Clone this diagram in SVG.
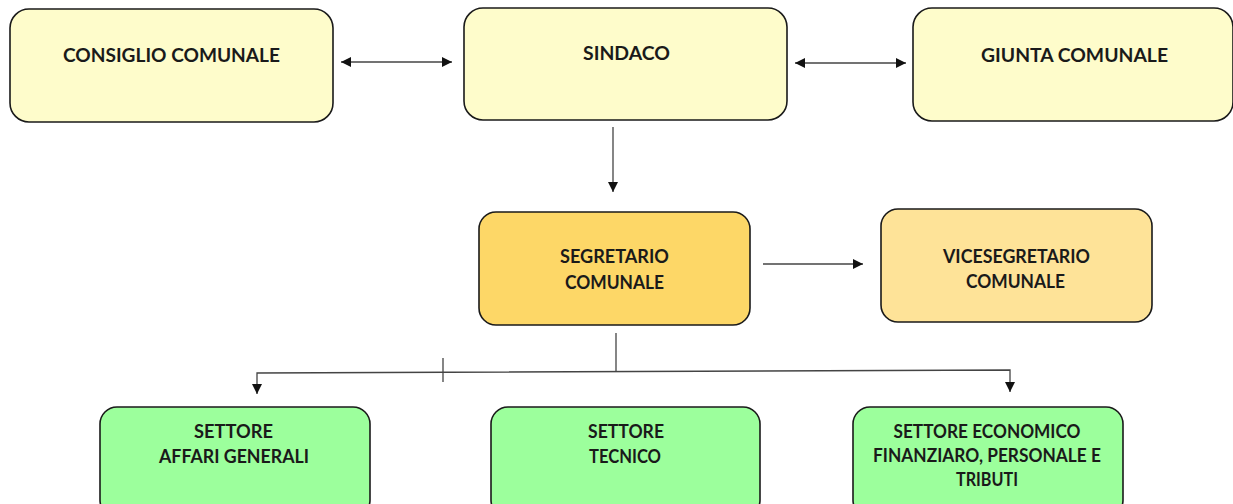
<svg xmlns="http://www.w3.org/2000/svg" width="1233" height="504" viewBox="0 0 1233 504">
<defs>
<marker id="ah" viewBox="0 0 10 10" refX="10" refY="5" markerWidth="10" markerHeight="10" markerUnits="userSpaceOnUse" orient="auto-start-reverse">
<path d="M0,0 L10,5 L0,10 z" fill="#111"/>
</marker>
<style>
.box{stroke:#1a1a1a;stroke-width:1.6}
.y{fill:#FEFCCB}
.s{fill:#FDD767}
.v{fill:#FEE398}
.g{fill:#9CFF9C}
text{font-family:Lato,"Open Sans","Liberation Sans",sans-serif;font-weight:bold;font-size:19px;fill:#1a1a1a;text-anchor:middle}
.c{fill:none;stroke:#444;stroke-width:1.3}
</style>
</defs>
<rect width="1233" height="504" fill="#fff"/>
<g id="consiglio"><rect class="box y" x="10" y="9" width="323" height="113" rx="19"/><text x="171.5" y="62" textLength="217" lengthAdjust="spacingAndGlyphs">CONSIGLIO COMUNALE</text></g>
<g id="sindaco"><rect class="box y" x="464" y="8" width="323" height="112" rx="19"/><text x="626.5" y="60" textLength="87" lengthAdjust="spacingAndGlyphs">SINDACO</text></g>
<g id="giunta"><rect class="box y" x="913" y="8" width="320" height="113" rx="19"/><text x="1074.5" y="62" textLength="187" lengthAdjust="spacingAndGlyphs">GIUNTA COMUNALE</text></g>
<g id="segretario"><rect class="box s" x="479" y="212" width="271" height="113" rx="17"/><text x="614.5" y="263" textLength="109" lengthAdjust="spacingAndGlyphs">SEGRETARIO</text><text x="614.5" y="289" textLength="99" lengthAdjust="spacingAndGlyphs">COMUNALE</text></g>
<g id="vicesegretario"><rect class="box v" x="881" y="209" width="271" height="113" rx="17"/><text x="1016.5" y="263" textLength="147" lengthAdjust="spacingAndGlyphs">VICESEGRETARIO</text><text x="1015.5" y="288" textLength="99" lengthAdjust="spacingAndGlyphs">COMUNALE</text></g>
<g id="affari"><rect class="box g" x="100" y="407" width="270" height="110" rx="17"/><text x="233.5" y="438" textLength="79" lengthAdjust="spacingAndGlyphs">SETTORE</text><text x="234" y="463" textLength="150" lengthAdjust="spacingAndGlyphs">AFFARI GENERALI</text></g>
<g id="tecnico"><rect class="box g" x="491" y="407" width="269" height="110" rx="17"/><text x="626" y="438" textLength="76" lengthAdjust="spacingAndGlyphs">SETTORE</text><text x="625" y="463" textLength="72" lengthAdjust="spacingAndGlyphs">TECNICO</text></g>
<g id="economico"><rect class="box g" x="853" y="407" width="270" height="110" rx="17"/><text x="987" y="438" textLength="187" lengthAdjust="spacingAndGlyphs">SETTORE ECONOMICO</text><text x="987" y="462" textLength="228" lengthAdjust="spacingAndGlyphs">FINANZIARO, PERSONALE E</text><text x="987" y="486" textLength="62" lengthAdjust="spacingAndGlyphs">TRIBUTI</text></g>
<g id="connectors">
<line class="c" x1="341" y1="62" x2="452" y2="62" marker-start="url(#ah)" marker-end="url(#ah)"/>
<line class="c" x1="795" y1="63" x2="906" y2="63" marker-start="url(#ah)" marker-end="url(#ah)"/>
<line class="c" x1="613" y1="127" x2="613" y2="192" marker-end="url(#ah)"/>
<line class="c" x1="763" y1="264" x2="863" y2="264" marker-end="url(#ah)"/>
<line class="c" x1="616" y1="333" x2="616" y2="372"/>
<polyline class="c" points="257,394 257,373 1010,370 1010,392" marker-start="url(#ah)" marker-end="url(#ah)"/>
<line class="c" x1="443" y1="358" x2="443" y2="382"/>
</g>
</svg>
